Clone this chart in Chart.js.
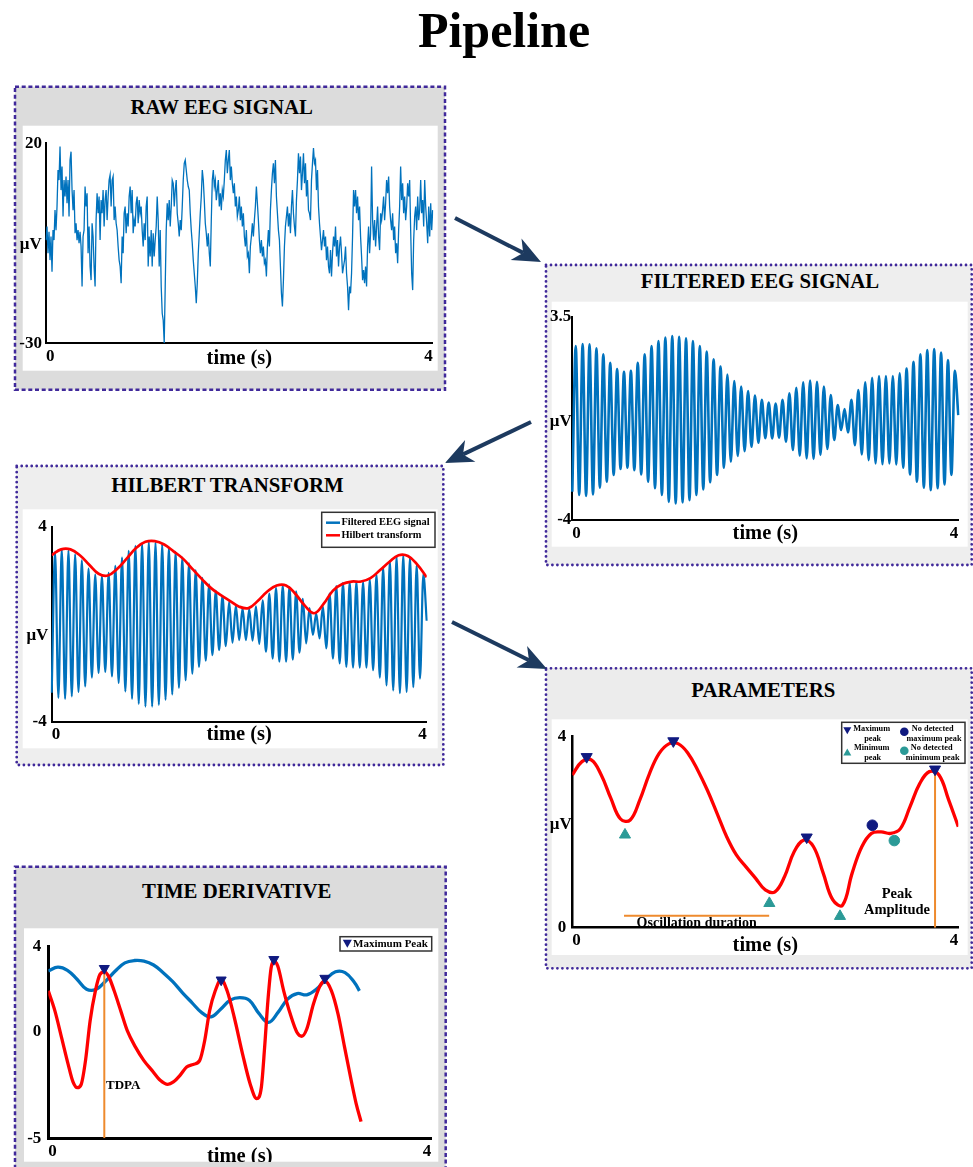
<!DOCTYPE html>
<html>
<head>
<meta charset="utf-8">
<script src="https://cdn.jsdelivr.net/npm/chart.js@4.4.1/dist/chart.umd.min.js"></script>
<style>
  body { margin: 0; width: 973px; height: 1167px; overflow: hidden; background: #fff; }
  svg { position: absolute; left: 0; top: 0; }
  #bg { z-index: 0; }
  canvas { position: absolute; z-index: 1; }
  #fg { z-index: 2; }
  text { font-family: "Liberation Serif", "Times New Roman", serif; font-weight: bold; }
</style>
</head>
<body>
<svg id="bg" width="973" height="1167">
  <text x="504" y="47" font-size="50" text-anchor="middle">Pipeline</text>

  <!-- panel boxes -->
  <rect x="15" y="86.7" width="430" height="303" fill="#dcdcdc" stroke="#40299a" stroke-width="2.5" stroke-dasharray="4 2.7"/>
  <rect x="22.7" y="125.7" width="415" height="245" fill="#fff"/>
  <text x="221.7" y="114.3" font-size="20.8" text-anchor="middle">RAW EEG SIGNAL</text>

  <rect x="546" y="265" width="425.7" height="300" fill="#eeeeee" stroke="#40299a" stroke-width="2.8" stroke-dasharray="0 5" stroke-linecap="round"/>
  <rect x="551.7" y="301.7" width="416" height="245" fill="#fff"/>
  <text x="760" y="287.7" font-size="20.8" text-anchor="middle">FILTERED EEG SIGNAL</text>

  <rect x="16.7" y="466" width="426.6" height="299" fill="#eeeeee" stroke="#40299a" stroke-width="2.8" stroke-dasharray="0 5" stroke-linecap="round"/>
  <rect x="22.7" y="509.3" width="415" height="239" fill="#fff"/>
  <text x="227.5" y="492.3" font-size="20.8" text-anchor="middle">HILBERT TRANSFORM</text>

  <rect x="546" y="668.3" width="425.7" height="300" fill="#ececec" stroke="#40299a" stroke-width="2.8" stroke-dasharray="0 5" stroke-linecap="round"/>
  <rect x="551.7" y="719.3" width="416" height="235.7" fill="#fff"/>
  <text x="763.3" y="696.7" font-size="20.8" text-anchor="middle">PARAMETERS</text>

  <rect x="15" y="866.7" width="430.7" height="320" fill="#dcdcdc" stroke="#40299a" stroke-width="2.5" stroke-dasharray="4 2.7"/>
  <rect x="24" y="928.3" width="414.3" height="233.4" fill="#fff"/>
  <text x="236.7" y="898.3" font-size="20.8" text-anchor="middle">TIME DERIVATIVE</text>

  <!-- arrows -->
  <g fill="#1d3a5f" stroke="#1d3a5f">
    <line x1="455" y1="218" x2="523.2" y2="252.9" stroke-width="4"/>
    <polygon points="541,262 510.6,259.9 523.2,252.9 521.5,238.6" stroke="none"/>
    <line x1="531" y1="422" x2="463" y2="454.4" stroke-width="4"/>
    <polygon points="445,463 465.1,440.1 463,454.4 475.4,461.8" stroke="none"/>
    <line x1="452" y1="622" x2="529" y2="660.2" stroke-width="4"/>
    <polygon points="547,669 516.6,667.5 529,660.2 527.1,645.9" stroke="none"/>
  </g>
</svg>

<canvas id="rawChart" width="423" height="245" style="left:15px;top:126px"></canvas>
<canvas id="filtChart" width="424" height="245" style="left:544px;top:302px"></canvas>
<canvas id="hilbChart" width="415" height="238" style="left:23px;top:510px"></canvas>
<canvas id="paramChart" width="424" height="235" style="left:544px;top:720px"></canvas>
<canvas id="derivChart" width="414" height="233" style="left:24px;top:929px"></canvas>

<svg id="fg" width="973" height="1167">
  <!-- hilbert legend -->
  <rect x="321.7" y="512.3" width="113.3" height="35" fill="#fff" stroke="#333" stroke-width="1.5"/>
  <line x1="326" y1="522.7" x2="340" y2="522.7" stroke="#0072bd" stroke-width="2.5"/>
  <text x="341.5" y="522.7" font-size="10.4" dominant-baseline="middle">Filtered EEG signal</text>
  <line x1="326" y1="535.3" x2="340" y2="535.3" stroke="#ff0000" stroke-width="2.5"/>
  <text x="341.5" y="535.3" font-size="10.4" dominant-baseline="middle">Hilbert transform</text>

  <!-- parameters legend -->
  <rect x="841.7" y="722.3" width="123.3" height="41" fill="#fff" stroke="#333" stroke-width="1.5"/>
  <polygon points="843.3,727.2 851.3,727.2 847.3,734.2" fill="#101a80"/>
  <polygon points="843.3,755.5 851.3,755.5 847.3,748.5" fill="#2b9a97"/>
  <circle cx="904.3" cy="731.7" r="4.3" fill="#101a80"/>
  <circle cx="904.3" cy="750.7" r="4.3" fill="#2b9a97"/>
  <g font-size="8.3" text-anchor="middle">
    <text x="871.7" y="729.3" dominant-baseline="middle">Maximum</text>
    <text x="872.7" y="739" dominant-baseline="middle">peak</text>
    <text x="871.7" y="748.3" dominant-baseline="middle">Minimum</text>
    <text x="872.7" y="758.3" dominant-baseline="middle">peak</text>
    <text x="932.7" y="729.3" dominant-baseline="middle">No detected</text>
    <text x="934" y="739" dominant-baseline="middle">maximum peak</text>
    <text x="931.7" y="748.3" dominant-baseline="middle">No detected</text>
    <text x="932.7" y="758.3" dominant-baseline="middle">minimum peak</text>
  </g>

  <!-- time derivative legend -->
  <rect x="340" y="936.7" width="91.7" height="14.3" fill="#fff" stroke="#333" stroke-width="1.5"/>
  <polygon points="342.8,939.7 351.8,939.7 347.3,947.7" fill="#101a80"/>
  <text x="353" y="944.2" font-size="11" dominant-baseline="middle">Maximum Peak</text>
</svg>

<script>
// ---------- data ----------
const timeTicks = [0, 4];
const rawTicks = [-30, 20];
const filtTicks = [-4, 3.5];
const hilbTicks = [-4, 4];
const paramTicks = [0, 4];
const derivTicks = [-5, 0, 4];

// raw EEG, evenly sampled over 0..4 s (µV)
const rawEeg = [
  -4.2,-0.8,-7.5,-2.1,-9.2,-3.3,-12.1,-1.7,-4.2,3.3,
  -1.7,4.2,13.3,10.8,19.2,8.3,14.2,1.7,10.8,6.7,
  11.7,5.0,10.8,1.7,15.8,17.9,8.3,3.3,8.3,-2.5,
  0,-4.2,-1.7,-5.0,-2.1,-5.8,-15.8,-3.3,-1.7,9.2,
  4.2,7.5,-7.5,-0.8,-10.8,-14.2,0,-3.3,-10.8,-15.8,
  0.8,7.5,2.5,6.7,-4.2,5.8,2.5,8.3,-0.8,5.8,
  8.3,0.8,6.7,10.8,12.1,4.2,10.8,11.7,0.8,4.2,
  0,-1.7,-5.8,-9.2,-10.8,-15.0,-3.3,-7.5,2.5,4.2,
  -2.5,2.5,-0.8,6.7,9.2,2.5,8.3,-2.5,0.8,-0.8,
  5.0,6.7,0,5.8,2.5,4.2,-1.7,-5.8,0,-4.2,
  4.2,6.7,-10.8,-3.3,-8.3,-1.7,-10.8,-2.5,-8.3,-4.2,
  -0.8,6.7,0.8,-10.8,-1.7,-15.8,-22.5,-24.2,-30,-15.8,
  -1.7,5.0,0.8,5.8,-0.8,4.2,10.8,10.0,4.2,8.3,
  10.8,2.5,0,-3.3,0.8,-1.7,4.2,10.8,15.0,15.8,
  13.3,10.8,9.2,8.3,2.5,-1.7,-5.0,-9.2,-12.5,-15.8,
  -20,-15,-7.5,-2.5,2.5,6.7,13.3,10.8,5.8,0,
  -2.5,-5.8,-2.5,-7.5,-10.8,0.8,10.8,13.3,9.2,10.8,
  5.8,8.3,10.8,4.2,7.5,3.3,8.3,6.7,10.8,15.8,
  18.3,12.5,15.8,18.3,10.8,14.2,10.0,7.5,10.0,4.2,
  6.7,1.7,3.3,6.7,0.8,4.2,-0.8,2.5,-3.3,-5.8,
  -1.7,-8.3,-7.5,-12.5,-5.8,-3.3,0,-3.3,0.8,4.2,
  9.2,5.0,0.8,-4.2,-7.5,-4.2,-8.3,-5.8,-10,-9.2,
  -13.3,-5.8,-1.7,-5.8,3.3,8.3,12.5,15.0,10.0,15.8,
  6.7,2.5,-1.7,-4.2,-10.8,-17.5,-20.8,-14.2,-5.8,-0.8,
  1.7,4.2,-0.8,2.5,-2.5,4.2,8.3,2.5,-0.8,-3.3,
  5.8,10.8,17.5,12.5,16.7,8.3,12.5,17.5,10.0,15.0,
  6.7,10.8,3.3,2.5,0.8,10.8,15.0,18.8,15.0,15.8,
  8.3,13.3,4.2,0,-3.3,-6.7,-4.2,-1.7,-5.8,-3.3,
  -9.2,-5.8,-10.8,-12.5,-6.7,-13.3,-7.5,-3.3,-5.8,-0.8,
  -8.3,-4.2,-10.8,-5.8,-3.3,-7.5,-12.5,-10.8,-9.2,-5.8,
  -12.5,-15.8,-21.7,-15.8,-17.5,-12.5,-3.3,8.3,4.2,8.3,
  2.5,6.7,0.8,4.2,-3.3,-8.3,-14.2,-11.7,-15.0,-10.8,
  -15.8,-5.8,-0.8,-7.5,-2.5,14.2,0.8,-4.2,0.8,-5.8,
  -0.8,4.2,-3.3,-6.7,2.5,0.8,3.3,6.7,0.8,5.0,
  10.8,7.5,11.7,4.2,0.8,-1.7,2.5,-4.2,-0.8,-7.5,
  -5.0,-10,-1.7,4.2,14.2,5.8,10.0,2.5,6.7,0.8,
  4.2,10.0,6.7,10.8,-1.7,-12.5,-16.7,-4.2,1.7,4.2,
  -1.7,6.7,0.8,3.3,10.8,2.5,5.8,-0.8,10.8,4.2,
  0,-5.0,4.2,-3.3,5.0,-1.7,3.3
];

// filtered EEG: start/end values plus successive peaks and troughs
const filtEnds = [-2.96, -0.13];
const filtPeaks = [
  2.42,2.49,2.48,2.33,2.11,1.80,1.57,1.47,1.50,1.80,
  2.11,2.42,2.60,2.73,2.79,2.76,2.70,2.60,2.42,2.21,
  1.93,1.66,1.37,1.13,0.92,0.76,0.59,0.43,0.33,0.30,
  0.43,0.67,0.88,1.08,1.14,1.10,0.92,0.61,0.24,0.09,
  0.43,0.79,1.08,1.25,1.31,1.31,1.31,1.41,1.59,1.84,
  2.11,2.27,2.31,2.18,1.90,1.50
];
const filtTroughs = [
  -3.08,-3.11,-3.06,-2.81,-2.59,-2.34,-2.12,-2.07,-2.16,-2.32,
  -2.59,-2.83,-3.08,-3.33,-3.39,-3.35,-3.27,-3.08,-2.87,-2.61,
  -2.34,-2.07,-1.85,-1.64,-1.46,-1.30,-1.15,-0.98,-0.99,-0.96,
  -1.11,-1.42,-1.63,-1.73,-1.75,-1.60,-1.38,-1.05,-0.68,-0.77,
  -1.24,-1.58,-1.79,-1.91,-1.94,-1.91,-1.95,-2.07,-2.32,-2.59,
  -2.81,-2.90,-2.83,-2.69,-2.34
];

// hilbert panel: same signal as drawn there, plus envelope
const hilbEnds = [-2.81, 0.14];
const hilbPeaks = [
  2.97,3.08,3.02,2.87,2.62,2.28,2.04,1.97,2.11,2.39,
  2.73,3.01,3.21,3.32,3.38,3.35,3.28,3.14,2.97,2.73,
  2.50,2.21,1.90,1.63,1.38,1.15,0.92,0.76,0.65,0.62,
  0.73,0.98,1.26,1.49,1.59,1.53,1.35,1.04,0.66,0.43,
  0.73,1.26,1.56,1.70,1.72,1.74,1.74,1.83,2.04,2.32,
  2.59,2.77,2.84,2.73,2.41,2.05
];
const hilbTroughs = [
  -3.02,-3.06,-2.96,-2.78,-2.55,-2.19,-2.00,-1.96,-2.14,-2.41,
  -2.76,-3.06,-3.27,-3.38,-3.38,-3.31,-3.10,-2.88,-2.61,-2.30,
  -2.03,-1.75,-1.50,-1.27,-1.06,-0.90,-0.76,-0.65,-0.65,-0.67,
  -0.81,-1.13,-1.41,-1.54,-1.54,-1.45,-1.17,-0.79,-0.44,-0.58,
  -0.99,-1.41,-1.61,-1.75,-1.78,-1.78,-1.78,-1.89,-2.19,-2.51,
  -2.72,-2.83,-2.78,-2.58,-2.23
];
const envTime = [0,0.1,0.2,0.3,0.4,0.5,0.6,0.7,0.8,0.9,1.0,1.1,1.2,1.3,1.4,1.5,1.6,1.7,1.8,1.9,2.0,
                 2.1,2.2,2.3,2.4,2.5,2.6,2.7,2.8,2.9,3.0,3.1,3.2,3.3,3.4,3.5,3.6,3.7,3.8,3.9,4.0];
const hilbEnv = [2.83,3.07,3.07,2.83,2.44,2.07,2.00,2.27,2.69,3.13,3.38,3.41,3.27,2.99,2.69,2.27,1.86,1.48,1.20,0.96,0.72,
                 0.66,0.96,1.34,1.59,1.59,1.24,0.76,0.45,0.83,1.38,1.65,1.75,1.75,1.89,2.21,2.55,2.83,2.80,2.44,1.93];

// parameters panel
const paramEnv = [3.19,3.47,3.50,3.19,2.70,2.27,2.25,2.67,3.22,3.64,3.84,3.84,3.64,3.29,2.87,2.39,1.90,1.52,1.27,1.03,0.79,
                  0.75,1.07,1.59,1.83,1.69,1.14,0.58,0.47,1.14,1.69,1.97,2.00,1.97,2.07,2.53,3.01,3.26,3.19,2.67,2.11];
const maxPeakT = [0.149, 1.047, 2.429, 3.759];
const maxPeakV = [3.57, 3.90, 1.89, 3.31];
const minPeakT = [0.546, 2.042, 2.774];
const minPeakV = [1.94, 0.51, 0.24];
const noMaxT = [3.109], noMaxV = [2.14];
const noMinT = [3.337], noMinV = [1.82];
const oscSpan = [0.536, 2.04], oscLevel = 0.25;
const peakAmpT = 3.759, peakAmpV = 3.26;

// time derivative panel
const derivBlueT = [0,0.1,0.2,0.3,0.4,0.5,0.6,0.7,0.8,0.9,1.0,1.1,1.2,1.3,1.4,1.5,1.6,1.7,1.8,1.9,2.0,
                    2.1,2.2,2.3,2.4,2.5,2.6,2.7,2.8,2.9,3.0,3.1,3.2,3.25];
const derivBlue = [2.84,3.02,2.87,2.45,1.98,1.98,2.37,2.84,3.22,3.33,3.30,3.12,2.76,2.34,1.83,1.36,0.90,0.69,1.05,1.47,1.59,
                   1.47,0.85,0.43,0.90,1.52,1.78,1.72,1.98,2.45,2.80,2.76,2.29,1.91];
const derivRedT = [0,0.069,0.138,0.206,0.258,0.303,0.344,0.389,0.437,0.492,0.54,0.585,0.629,0.688,0.757,
                   0.825,0.911,0.997,1.083,1.169,1.248,1.307,1.376,1.445,1.513,1.582,1.634,1.685,1.744,1.806,
                   1.868,1.943,2.029,2.108,2.177,2.225,2.26,2.294,2.328,2.356,2.397,2.459,2.528,2.597,2.648,
                   2.70,2.769,2.838,2.889,2.958,3.027,3.095,3.164,3.216,3.267];
const derivRed = [1.91,0.97,-0.27,-1.51,-2.36,-2.63,-2.47,-1.35,0.51,1.91,2.68,2.80,2.60,1.91,0.97,
                  0.04,-0.73,-1.35,-1.82,-2.28,-2.47,-2.36,-2.05,-1.66,-1.54,-1.35,-0.42,0.97,1.91,2.45,
                  1.91,0.66,-1.04,-2.44,-3.14,-2.63,-0.73,1.44,2.99,3.30,3.07,1.91,0.82,-0.03,-0.22,
                  0.12,1.28,2.14,2.37,1.91,0.82,-0.73,-2.28,-3.37,-4.22];
const derivPeakT = [0.585, 1.806, 2.356, 2.889];
const derivPeakV = [2.96, 2.42, 3.38, 2.50];
const tdpaT = 0.585, tdpaTop = 2.8;

// ---------- helpers ----------
const BLUE = '#0072bd', RED = '#ff0000', NAVY = '#101a80', TEAL = '#2b9a97', ORANGE = '#ee8a2d';
const SERIF = '"Liberation Serif", "Times New Roman", serif';
const tickFont = { family: SERIF, size: 17, weight: 'bold' };

function alternate(ends, peaks, troughs) {
  const out = [ends[0]];
  peaks.forEach((p, i) => { out.push(p); if (i < troughs.length) out.push(troughs[i]); });
  out.push(ends[1]);
  return out;
}
function edgeLabels(n) {
  return Array.from({ length: n }, (_, i) => i === 0 ? String(timeTicks[0]) : i === n - 1 ? String(timeTicks[1]) : '');
}
function pts(xs, ys) { return xs.map((x, i) => ({ x: x, y: ys[i] })); }

function yScale(ticks, g) {
  return {
    min: ticks[0], max: ticks[ticks.length - 1],
    grid: { display: false, drawTicks: false },
    border: { display: true, color: '#000', width: g.bw },
    ticks: { padding: g.yPad, font: tickFont, color: '#000', callback: v => String(v) },
    afterBuildTicks: s => { s.ticks = ticks.map(v => ({ value: v })); },
    afterFit: s => { s.width = g.yW; }
  };
}
function xLinear(g) {
  return {
    type: 'linear', min: 0, max: 4,
    grid: { display: false, drawTicks: false },
    border: { display: true, color: '#000', width: g.bw },
    ticks: { align: 'inner', maxRotation: 0, padding: 3, font: tickFont, color: '#000', callback: v => String(v) },
    afterBuildTicks: s => { s.ticks = timeTicks.map(v => ({ value: v })); },
    afterFit: s => { s.height = g.xH; }
  };
}
function xCategory(g, display) {
  const s = {
    type: 'category', display: display,
    grid: { display: false, drawTicks: false },
    border: { display: true, color: '#000', width: g.bw },
    ticks: { align: 'inner', autoSkip: false, maxRotation: 0, minRotation: 0, padding: 3, font: tickFont, color: '#000' }
  };
  if (display) s.afterFit = sc => { sc.height = g.xH; };
  return s;
}

const axisTextPlugin = {
  id: 'axisText',
  afterDraw(chart, args, o) {
    const ctx = chart.ctx, a = chart.chartArea;
    ctx.save();
    ctx.fillStyle = '#000';
    ctx.textBaseline = 'middle';
    if (o.uv) {
      ctx.font = 'bold 17px ' + SERIF;
      ctx.textAlign = 'right';
      ctx.fillText('μV', a.left - o.uvGap, (a.top + a.bottom) / 2 + o.uvDy);
    }
    ctx.font = 'bold 20.5px ' + SERIF;
    ctx.textAlign = 'center';
    ctx.fillText('time (s)', (a.left + a.right) / 2, a.bottom + o.timeDy);
    ctx.restore();
  }
};
const notesPlugin = {
  id: 'notes',
  afterDatasetsDraw(chart, args, o) {
    const ctx = chart.ctx;
    (o.items || []).forEach(n => {
      ctx.save();
      ctx.font = 'bold ' + n.size + 'px ' + SERIF;
      ctx.fillStyle = '#000';
      ctx.textAlign = n.align || 'center';
      ctx.textBaseline = 'middle';
      ctx.fillText(n.text, chart.scales.x.getPixelForValue(n.x), chart.scales.y.getPixelForValue(n.y));
      ctx.restore();
    });
  }
};

function baseOptions(g, scales, axisText, notes) {
  return {
    responsive: false, animation: false, devicePixelRatio: 1, events: [],
    layout: { padding: { left: 0, top: g.padTop, right: g.padRight, bottom: 0 } },
    elements: { point: { radius: 0 } },
    scales: scales,
    plugins: {
      legend: { display: false }, tooltip: { enabled: false },
      axisText: axisText, notes: { items: notes || [] }
    }
  };
}

Chart.defaults.font.family = SERIF;
Chart.defaults.color = '#000';

// ---------- geometry ----------
const geo = {
  raw:   { yW: 31,   padTop: 17.3, padRight: 5.3,  xH: 27.7, bw: 2,   yPad: 4 },
  filt:  { yW: 28.3, padTop: 14.7, padRight: 9.7,  xH: 27,   bw: 2,   yPad: 1 },
  hilb:  { yW: 28.7, padTop: 16.7, padRight: 11.3, xH: 26.3, bw: 2,   yPad: 5 },
  param: { yW: 28.3, padTop: 16,   padRight: 9.7,  xH: 27.3, bw: 2.5, yPad: 6 },
  deriv: { yW: 24.3, padTop: 16,   padRight: 2,    xH: 23.7, bw: 3,   yPad: 7 }
};

// ---------- raw EEG ----------
new Chart(document.getElementById('rawChart'), {
  type: 'line',
  data: {
    labels: edgeLabels(rawEeg.length),
    datasets: [{ data: rawEeg, borderColor: BLUE, borderWidth: 1.3, tension: 0 }]
  },
  options: baseOptions(geo.raw, { x: xCategory(geo.raw, true), y: yScale(rawTicks, geo.raw) },
    { uv: true, uvGap: 4.3, uvDy: 1, timeDy: 15 }),
  plugins: [axisTextPlugin, notesPlugin]
});

// ---------- filtered EEG ----------
const filtSignal = alternate(filtEnds, filtPeaks, filtTroughs);
new Chart(document.getElementById('filtChart'), {
  type: 'line',
  data: {
    labels: edgeLabels(filtSignal.length),
    datasets: [{ data: filtSignal, borderColor: BLUE, borderWidth: 2.6, cubicInterpolationMode: 'monotone' }]
  },
  options: baseOptions(geo.filt, { x: xCategory(geo.filt, true), y: yScale(filtTicks, geo.filt) },
    { uv: true, uvGap: 0.6, uvDy: 3, timeDy: 13.3 }),
  plugins: [axisTextPlugin, notesPlugin]
});

// ---------- hilbert transform ----------
const hilbSignal = alternate(hilbEnds, hilbPeaks, hilbTroughs);
new Chart(document.getElementById('hilbChart'), {
  type: 'line',
  data: {
    labels: edgeLabels(hilbSignal.length),
    datasets: [
      { data: pts(envTime, hilbEnv), xAxisID: 'x2', borderColor: RED, borderWidth: 2.7, tension: 0.4 },
      { data: hilbSignal, xAxisID: 'x', borderColor: BLUE, borderWidth: 2.2, cubicInterpolationMode: 'monotone' }
    ]
  },
  options: baseOptions(geo.hilb, { x: xCategory(geo.hilb, false), x2: Object.assign(xLinear(geo.hilb), { position: 'bottom' }), y: yScale(hilbTicks, geo.hilb) },
    { uv: true, uvGap: 3.4, uvDy: 11, timeDy: 13.3 }),
  plugins: [axisTextPlugin, notesPlugin]
});

// ---------- parameters ----------
new Chart(document.getElementById('paramChart'), {
  type: 'line',
  data: {
    datasets: [
      { data: pts(maxPeakT, maxPeakV), showLine: false, pointStyle: 'triangle', rotation: 180, pointRadius: 6.4,
        backgroundColor: NAVY, borderColor: NAVY, borderWidth: 1, clip: false },
      { data: pts(minPeakT, minPeakV), showLine: false, pointStyle: 'triangle', pointRadius: 6.4,
        backgroundColor: TEAL, borderColor: TEAL, borderWidth: 1, clip: false },
      { data: pts(noMaxT, noMaxV), showLine: false, pointStyle: 'circle', pointRadius: 5.3,
        backgroundColor: NAVY, borderColor: NAVY, borderWidth: 1, clip: false },
      { data: pts(noMinT, noMinV), showLine: false, pointStyle: 'circle', pointRadius: 5.3,
        backgroundColor: TEAL, borderColor: TEAL, borderWidth: 1, clip: false },
      { data: [{ x: peakAmpT, y: 0 }, { x: peakAmpT, y: peakAmpV }], borderColor: ORANGE, borderWidth: 2 },
      { data: [{ x: oscSpan[0], y: oscLevel }, { x: oscSpan[1], y: oscLevel }], borderColor: ORANGE, borderWidth: 2 },
      { data: pts(envTime, paramEnv), borderColor: RED, borderWidth: 3.3, tension: 0.4 }
    ]
  },
  options: baseOptions(geo.param, { x: xLinear(geo.param), y: yScale(paramTicks, geo.param) },
    { uv: true, uvGap: 0.6, uvDy: -7, timeDy: 18 },
    [
      { text: 'Oscillation duration', x: 1.289, y: 0.10, size: 14 },
      { text: 'Peak', x: 3.365, y: 0.70, size: 14.5 },
      { text: 'Amplitude', x: 3.365, y: 0.355, size: 14.5 }
    ]),
  plugins: [axisTextPlugin, notesPlugin]
});

// ---------- time derivative ----------
new Chart(document.getElementById('derivChart'), {
  type: 'line',
  data: {
    datasets: [
      { data: pts(derivPeakT, derivPeakV), showLine: false, pointStyle: 'triangle', rotation: 180, pointRadius: 5.8,
        backgroundColor: NAVY, borderColor: NAVY, borderWidth: 1, clip: false },
      { data: [{ x: tdpaT, y: -5 }, { x: tdpaT, y: tdpaTop }], borderColor: ORANGE, borderWidth: 2 },
      { data: pts(derivRedT, derivRed), borderColor: RED, borderWidth: 3.3, cubicInterpolationMode: 'monotone' },
      { data: pts(derivBlueT, derivBlue), borderColor: BLUE, borderWidth: 3.3, tension: 0.4 }
    ]
  },
  options: baseOptions(geo.deriv, { x: xLinear(geo.deriv), y: yScale(derivTicks, geo.deriv) },
    { uv: false, timeDy: 18.4 },
    [{ text: 'TDPA', x: 0.603, y: -2.52, size: 13, align: 'left' }]),
  plugins: [axisTextPlugin, notesPlugin]
});
</script>
</body>
</html>
